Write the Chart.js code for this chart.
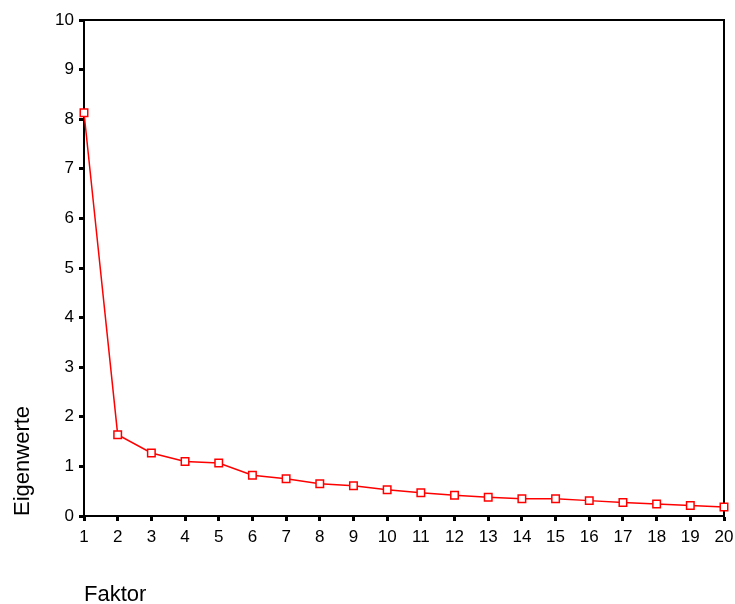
<!DOCTYPE html>
<html>
<head>
<meta charset="utf-8">
<script src="https://cdn.jsdelivr.net/npm/chart.js@4/dist/chart.umd.min.js"></script>
<style>
    html, body { margin: 0; padding: 0; background: #fff; }
    #wrap { width: 735px; height: 604px; }
</style>
</head>
<body>
<div id="wrap"><canvas id="screeChart" width="735" height="604"></canvas></div>
<script>
const faktoren = ['1','2','3','4','5','6','7','8','9','10','11','12','13','14','15','16','17','18','19','20'];
const eigenwerte = [8.13, 1.64, 1.27, 1.10, 1.07, 0.82, 0.75, 0.65, 0.61, 0.53,
                    0.47, 0.42, 0.38, 0.35, 0.35, 0.31, 0.27, 0.24, 0.21, 0.18];
const yMin = 0;
const yMax = 10;

const fontFamily = "Arial, 'Liberation Sans', sans-serif";

// Rahmen oben und rechts
const framePlugin = {
    id: 'frame',
    beforeDatasetsDraw(chart) {
        const { ctx, chartArea } = chart;
        ctx.save();
        ctx.strokeStyle = '#000';
        ctx.lineWidth = 2;
        ctx.beginPath();
        ctx.moveTo(chartArea.left, chartArea.top);
        ctx.lineTo(chartArea.right, chartArea.top);
        ctx.lineTo(chartArea.right, chartArea.bottom);
        ctx.stroke();
        ctx.restore();
    }
};

const ctx = document.getElementById('screeChart').getContext('2d');
new Chart(ctx, {
    type: 'line',
    data: {
        labels: faktoren,
        datasets: [{
            data: eigenwerte,
            borderColor: '#ff0000',
            borderWidth: 1.5,
            backgroundColor: '#ffffff',
            pointStyle: 'rect',
            pointRadius: 5.3,
            pointBorderWidth: 1.5,
            pointBorderColor: '#ff0000',
            pointBackgroundColor: '#ffffff',
            tension: 0,
            clip: false
        }]
    },
    options: {
        responsive: false,
        animation: false,
        layout: { autoPadding: false, padding: { left: 0, right: 11, top: 20, bottom: 0 } },
        plugins: {
            legend: { display: false },
            tooltip: { enabled: false }
        },
        scales: {
            x: {
                type: 'category',
                offset: false,
                grid: {
                    drawOnChartArea: false,
                    tickLength: 5,
                    tickWidth: 3,
                    tickColor: '#000'
                },
                border: { color: '#000', width: 2 },
                ticks: {
                    color: '#000',
                    padding: 6,
                    maxRotation: 0,
                    autoSkip: false,
                    font: { family: fontFamily, size: 17 }
                },
                title: {
                    display: true,
                    text: 'Faktor',
                    align: 'start',
                    color: '#000',
                    padding: { top: 0, bottom: 0 },
                    font: { family: fontFamily, size: 22, lineHeight: 0.8 }
                },
                afterFit: s => {
                    s.height = 88;
                    s.paddingLeft = 0;
                    s.paddingRight = 0;
                }
            },
            y: {
                min: yMin,
                max: yMax,
                grid: {
                    drawOnChartArea: false,
                    tickLength: 5,
                    tickWidth: 3,
                    tickColor: '#000'
                },
                border: { color: '#000', width: 2 },
                ticks: {
                    stepSize: 1,
                    color: '#000',
                    padding: 5,
                    font: { family: fontFamily, size: 17 }
                },
                title: {
                    display: true,
                    text: 'Eigenwerte',
                    align: 'start',
                    color: '#000',
                    padding: { top: 12, bottom: 0 },
                    font: { family: fontFamily, size: 22, lineHeight: 1 }
                },
                afterFit: s => {
                    s.width = 84;
                    s.paddingTop = 0;
                    s.paddingBottom = 0;
                }
            }
        }
    },
    plugins: [framePlugin]
});
</script>
</body>
</html>
